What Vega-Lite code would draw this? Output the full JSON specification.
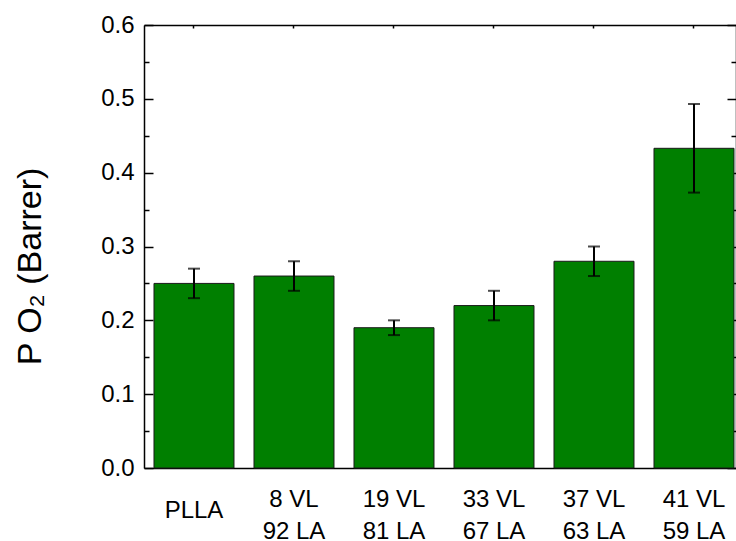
{
  "$schema": "https://vega.github.io/schema/vega-lite/v6.json",
  "autosize": "none",
  "width": 592,
  "height": 443,
  "padding": {"left": 144, "top": 25, "right": 0, "bottom": 73},
  "background": "white",
  "config": {
    "view": {"stroke": null},
    "font": "Liberation Sans",
    "axis": {"domainColor": "black", "domainWidth": 1.5, "tickColor": "black", "tickWidth": 1.5, "labelColor": "black", "titleColor": "black", "grid": false, "labelFont": "Liberation Sans", "titleFont": "Liberation Sans"}
  },
  "data": {"values": [
    {"sample": "PLLA", "p": 0.25, "lo": 0.23, "hi": 0.27},
    {"sample": "8 VL\n92 LA", "p": 0.26, "lo": 0.24, "hi": 0.28},
    {"sample": "19 VL\n81 LA", "p": 0.19, "lo": 0.18, "hi": 0.20},
    {"sample": "33 VL\n67 LA", "p": 0.22, "lo": 0.20, "hi": 0.24},
    {"sample": "37 VL\n63 LA", "p": 0.28, "lo": 0.26, "hi": 0.30},
    {"sample": "41 VL\n59 LA", "p": 0.433, "lo": 0.373, "hi": 0.493}
  ]},
  "resolve": {"axis": {"x": "independent", "y": "independent"}},
  "layer": [
    {
      "mark": {"type": "bar", "fill": "#007f00", "stroke": "#1a1a1a", "strokeWidth": 1},
      "encoding": {
        "x": {"field": "sample", "type": "nominal", "sort": null,
          "scale": {"paddingInner": 0.2, "paddingOuter": 0.06, "align": 0.833},
          "axis": {"orient": "bottom", "title": null, "labelAngle": 0, "labelFontSize": 24, "labelLineHeight": 32, "labelBaseline": "middle",
            "labelPadding": {"condition": {"test": "datum.value == 'PLLA'", "value": 45}, "value": 34},
            "tickSize": -3,
            "labelExpr": "split(datum.label, '\\n')"}},
        "y": {"field": "p", "type": "quantitative",
          "scale": {"domain": [0, 0.6], "nice": false, "zero": true},
          "axis": {"orient": "left", "values": [0, 0.05, 0.1, 0.15, 0.2, 0.25, 0.3, 0.35, 0.4, 0.45, 0.5, 0.55, 0.6],
            "labelExpr": "abs(round(datum.value*20)) % 2 == 0 ? format(datum.value, '.1f') : ''",
            "tickSize": {"condition": {"test": "abs(round(datum.value*20)) % 2 == 1", "value": -5}, "value": -9},
            "labelFontSize": 24, "labelPadding": 19, "labelFlush": false,
            "title": "P O₂ (Barrer)", "titleFontSize": 34, "titleFontWeight": "normal", "titleAngle": -90, "titleX": -114, "titleY": 241, "titleBaseline": "middle", "titleAlign": "center"}}
      }
    },
    {
      "mark": {"type": "rule", "color": "black", "strokeWidth": 2},
      "encoding": {
        "x": {"field": "sample", "type": "nominal", "sort": null,
          "axis": {"orient": "top", "labels": false, "title": null, "tickSize": -3}},
        "y": {"field": "lo", "type": "quantitative",
          "axis": {"orient": "right", "values": [0, 0.05, 0.1, 0.15, 0.2, 0.25, 0.3, 0.35, 0.4, 0.45, 0.5, 0.55, 0.6], "labels": false, "title": null,
            "tickSize": {"condition": {"test": "abs(round(datum.value*20)) % 2 == 1", "value": -5}, "value": -9}}},
        "y2": {"field": "hi"}
      }
    },
    {
      "mark": {"type": "tick", "color": "black", "size": 12, "thickness": 2},
      "encoding": {
        "x": {"field": "sample", "type": "nominal", "sort": null, "axis": null},
        "y": {"field": "lo", "type": "quantitative", "axis": null}
      }
    },
    {
      "mark": {"type": "tick", "color": "black", "size": 12, "thickness": 2},
      "encoding": {
        "x": {"field": "sample", "type": "nominal", "sort": null, "axis": null},
        "y": {"field": "hi", "type": "quantitative", "axis": null}
      }
    }
  ]
}
